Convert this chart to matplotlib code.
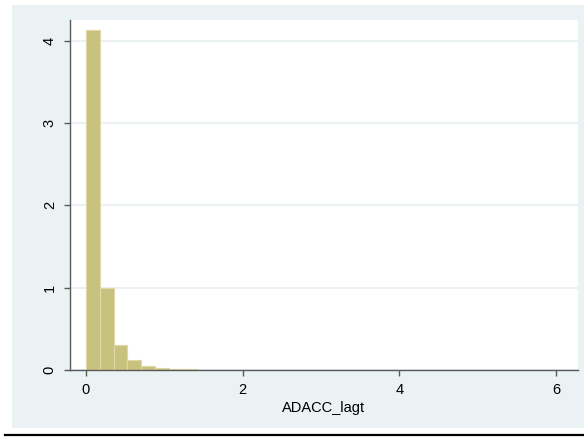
import matplotlib
matplotlib.use("Agg")
import matplotlib.pyplot as plt
from matplotlib.patches import Rectangle
from matplotlib.lines import Line2D
import numpy as np

plt.rcParams['font.family'] = ['Liberation Sans', 'DejaVu Sans']

# histogram of ADACC_lagt (density scale), 35 bins starting at 0
bin_width = 0.1766
density = [4.13, 1.00, 0.30, 0.125, 0.048, 0.02, 0.012, 0.008, 0.005, 0.004,
           0.003, 0.003, 0.002, 0.002, 0.002, 0.001, 0.001, 0.0, 0.0, 0.001,
           0.0, 0.0, 0.0, 0.0, 0.0, 0.0, 0.001, 0.0, 0.0, 0.0,
           0.0, 0.001, 0.0, 0.0, 0.001]
xticks = [0, 2, 4, 6]
yticks = [0, 1, 2, 3, 4]
xlabel = "ADACC_lagt"

W, H = 584, 437
fig = plt.figure(figsize=(W / 100, H / 100), dpi=100)
fig.patch.set_facecolor('white')

# stata-like graph region
fig.patches.append(Rectangle((12 / W, 1 - 428 / H), (W - 12) / W, (428 - 5) / H,
                             transform=fig.transFigure, facecolor='#EAF2F3',
                             edgecolor='none', zorder=-10))
fig.lines.append(Line2D([5 / W, 1.0], [1 - 435 / H, 1 - 435 / H],
                        transform=fig.transFigure, color='black', lw=1.6))

ax = fig.add_axes([70 / W, 1 - 370 / H, 508 / W, 350 / H])
ax.set_facecolor('white')

lefts = bin_width * np.arange(len(density))
ax.bar(lefts, density, width=bin_width, align='edge', color='#C9C27F',
       edgecolor='#DDD8A6', linewidth=0.8, zorder=2)

ax.set_xlim(-0.204, 6.283)
ax.set_ylim(0, 4.253)
ax.set_xticks(xticks)
ax.set_yticks(yticks)
ax.yaxis.grid(True, color='#E6EFF1', lw=1.2, zorder=0)
ax.set_axisbelow(True)

for s in ['top', 'right']:
    ax.spines[s].set_visible(False)
for s in ['left', 'bottom']:
    ax.spines[s].set_color('#5a5a5a')
    ax.spines[s].set_linewidth(1.0)
    ax.spines[s].set_zorder(3)

ax.tick_params(axis='both', colors='#5a5a5a', length=4.5, width=1.0,
               labelsize=10.5, labelcolor='black', pad=5)
for lab in ax.get_yticklabels():
    lab.set_rotation(90)
    lab.set_va('center')

ax.set_xlabel(xlabel, fontsize=10.5, labelpad=3)

fig.savefig('out.png', dpi=100)
